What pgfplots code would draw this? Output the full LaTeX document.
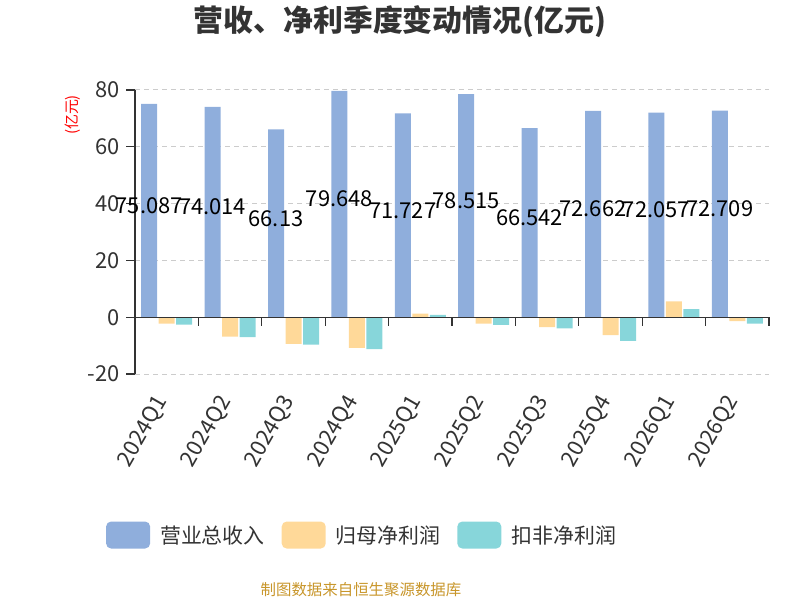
\documentclass[border=0pt]{standalone}
\usepackage{fontspec}
\setmainfont{Noto Sans CJK SC}
\usepackage{pgfplots}
\pgfplotsset{compat=1.18}
\usepackage{pgfplotstable}
\definecolor{cBlue}{RGB}{143,174,220}
\definecolor{cOrange}{RGB}{255,217,153}
\definecolor{cTeal}{RGB}{135,214,218}
\definecolor{cText}{RGB}{51,51,51}
\definecolor{cGrid}{RGB}{204,204,204}
\definecolor{cFoot}{RGB}{200,150,43}

\pgfplotstableread{
idx rev np nnp lab
0 75.087 -2.3 -2.6 75.087
1 74.014 -6.8 -7.0 74.014
2 66.13 -9.4 -9.7 66.13
3 79.648 -10.8 -11.2 79.648
4 71.727 1.3 0.8 71.727
5 78.515 -2.3 -2.7 78.515
6 66.542 -3.5 -3.9 66.542
7 72.662 -6.3 -8.3 72.662
8 72.057 5.6 2.8 72.057
9 72.709 -1.4 -2.3 72.709
}\datatable

\begin{document}
\begin{tikzpicture}
\useasboundingbox (0,0) rectangle (800bp,600bp);
\begin{axis}[
  at={(135bp,226bp)}, anchor=south west,
  scale only axis, width=634bp, height=284bp,
  xmin=-0.5, xmax=9.5, ymin=-20, ymax=80,
  axis line style={draw=none},
  xtick={0,...,9},
  xticklabels={2024Q1,2024Q2,2024Q3,2024Q4,2025Q1,2025Q2,2025Q3,2025Q4,2026Q1,2026Q2},
  xtick pos=bottom, ytick pos=left,
  major x tick style={draw=none},
  ytick={-20,0,20,40,60,80},
  tick align=outside,
  major tick length=9bp,
  ytick style={cText, line width=1.2bp},
  ymajorgrids,
  grid style={cGrid, line width=1bp, dash pattern=on 5bp off 4bp},
  yticklabel style={font=\fontsize{22}{26}\selectfont, text=cText, xshift=-3bp},
  xticklabel style={font=\fontsize{22}{26}\selectfont, text=cText, xshift=-4bp, yshift=-15bp, rotate=60, anchor=east, inner sep=0pt},
  /pgf/number format/assume math mode=true,
  legend style={at={(0.3565,-0.567)}, anchor=center, draw=none, fill=none,
    legend columns=3, font=\fontsize{21}{25}\selectfont, text=cText,
    /tikz/every even column/.append style={column sep=17bp},
    /tikz/every odd column/.append style={column sep=10bp},
    cells={anchor=west}, inner sep=0pt, nodes={inner sep=0pt}},
  clip=false,
]
\addplot[ybar, bar width=16bp, bar shift=-17.5bp, fill=cBlue, draw=none,
  legend image code/.code={\fill[cBlue, rounded corners=5bp] (0bp,-13.5bp) rectangle (44bp,13.5bp);}]
  table[x=idx, y=rev]{\datatable};
\addlegendentry{营业总收入}
\addplot[ybar, bar width=16bp, bar shift=0bp, fill=cOrange, draw=none,
  legend image code/.code={\fill[cOrange, rounded corners=5bp] (0bp,-13.5bp) rectangle (44bp,13.5bp);}]
  table[x=idx, y=np]{\datatable};
\addlegendentry{归母净利润}
\addplot[ybar, bar width=16bp, bar shift=17.5bp, fill=cTeal, draw=none,
  legend image code/.code={\fill[cTeal, rounded corners=5bp] (0bp,-13.5bp) rectangle (44bp,13.5bp);}]
  table[x=idx, y=nnp]{\datatable};
\addlegendentry{扣非净利润}
\draw[cText, line width=1.3bp] (axis cs:-0.5,0) -- (axis cs:9.5,0);
\draw[cText, line width=1.3bp] (axis cs:-0.5,-20) -- (axis cs:-0.5,80);
\pgfplotsinvokeforeach{-0.5,0.5,...,9.5}{\draw[cText, line width=1.3bp] (axis cs:#1,0) -- ([yshift=-9bp]axis cs:#1,0);}
\addplot[draw=none, mark=none, forget plot, nodes near coords, point meta=explicit symbolic,
  nodes near coords style={anchor=center, font=\fontsize{22}{26}\selectfont, text=black, xshift=-17.5bp, yshift=5bp}]
  table[x=idx, y expr=\thisrow{rev}/2, meta=lab]{\datatable};
\end{axis}
\node[font=\fontsize{30}{35}\selectfont\bfseries, text=cText] at (400bp,578bp) {营收、净利季度变动情况(亿元)};
\node[rotate=90, text=red, font=\fontsize{15}{18}\selectfont] at (73bp,485bp) {(亿元)};
\node[text=cFoot, font=\fontsize{15.5}{18}\selectfont] at (361bp,10bp) {制图数据来自恒生聚源数据库};
\end{tikzpicture}
\end{document}
